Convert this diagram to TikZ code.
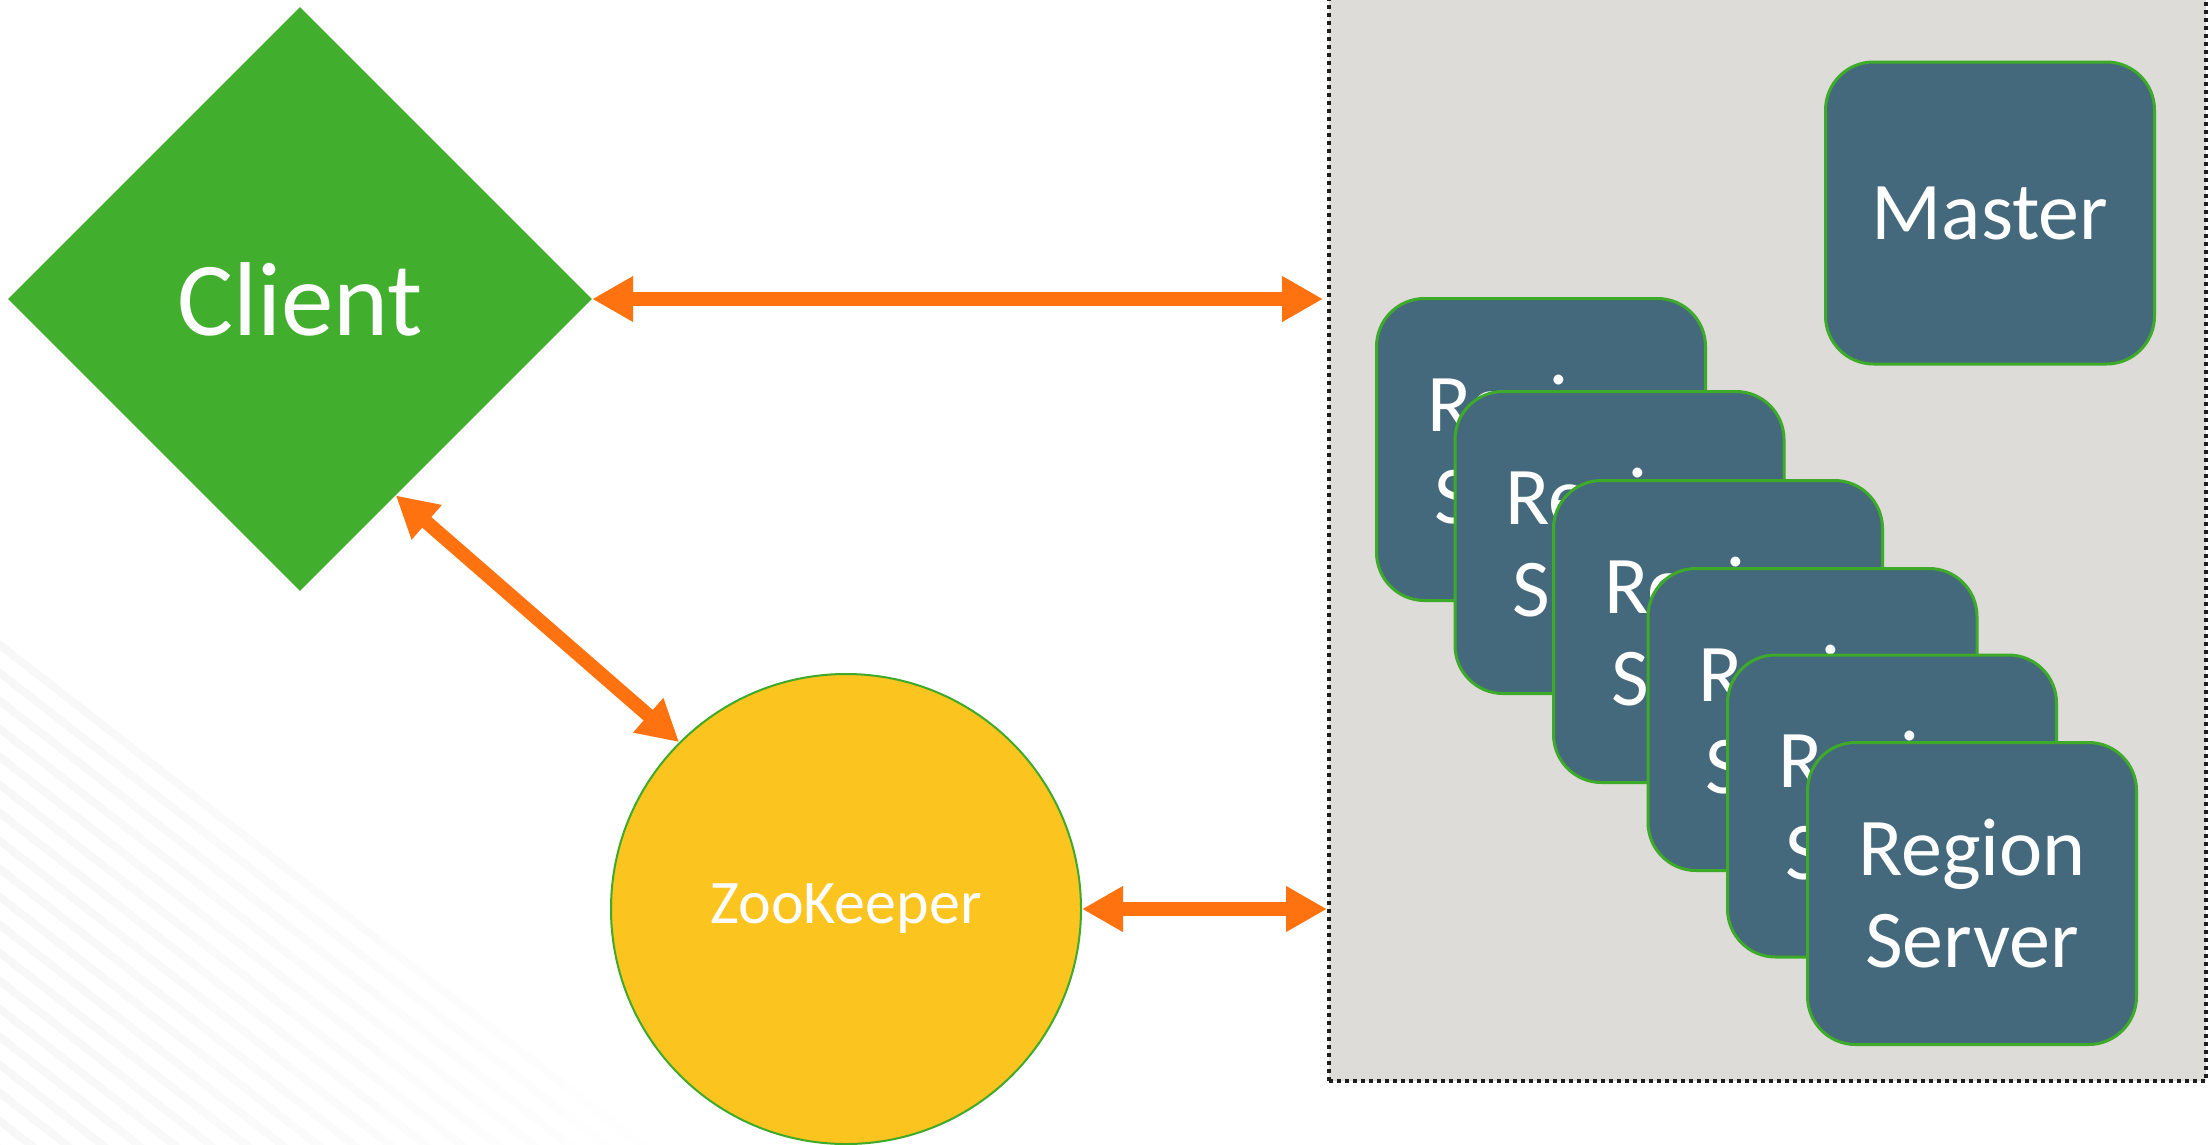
\documentclass[tikz,border=0pt]{standalone}
\usepackage{fontspec}
\setmainfont{Carlito}
\usetikzlibrary{shapes.geometric,arrows.meta}
\definecolor{cgreen}{HTML}{41AE2D}
\definecolor{bgreen}{HTML}{3DAA2A}
\definecolor{rsblue}{HTML}{45697C}
\definecolor{zkyellow}{HTML}{FCC41E}
\definecolor{arrorange}{HTML}{FF720F}
\definecolor{clgray}{HTML}{DDDCD8}
\definecolor{dotcol}{HTML}{1E1E1E}
\begin{document}
\begin{tikzpicture}[x=1pt,y=-1pt,
  rsbox/.style={draw=bgreen, line width=3pt, fill=rsblue, rounded corners=48pt,
    minimum width=329pt, minimum height=302pt, inner sep=0pt, text=white,
    align=center, font=\fontsize{82}{92}\selectfont},
  link/.style={draw=arrorange, line width=14pt,
    {Triangle[length=41pt,width=43pt]}-{Triangle[length=41pt,width=43pt]}},
]
\useasboundingbox (0,0) rectangle (2210,1144);
\fill[white] (0,0) rectangle (2210,1144);
% faint background stripes in the lower left corner
\begin{scope}
  \clip (0,0) rectangle (2210,1144);
  \foreach \i in {0,...,24} {
    \shade[left color=black!3, right color=white]
      (0,{640+\i*28}) -- (700,{640+\i*28+546}) -- (700,{650+\i*28+546}) -- (0,{650+\i*28}) -- cycle;
  }
\end{scope}
% cluster area
\node[draw=dotcol, fill=clgray, dash pattern=on 4pt off 4pt, line width=4pt,
  minimum width=877pt, minimum height=1101pt, inner sep=0pt] (cluster) at (1767.5,530.5) {};
% client
\node[diamond, aspect=1, fill=cgreen, minimum width=584pt, minimum height=584pt,
  inner sep=0pt, text=white, font=\fontsize{105}{120}\selectfont] (client) at (300,299) {Client};
% zookeeper
\node[circle, draw=bgreen, line width=2pt, fill=zkyellow, minimum size=470pt,
  inner sep=0pt, text=white, font=\fontsize{62}{70}\selectfont] (zk) at (846,909) {ZooKeeper};
% master and region servers
\node[rsbox] (master) at (1990,213) {Master};
\node[rsbox] (rs1) at (1541,449.5) {Region\\Server};
\node[rsbox] (rs2) at (1619.5,542.5) {Region\\Server};
\node[rsbox] (rs3) at (1718,631.5) {Region\\Server};
\node[rsbox] (rs4) at (1812.5,719.5) {Region\\Server};
\node[rsbox] (rs5) at (1892,806) {Region\\Server};
\node[rsbox] (rs6) at (1972,893.5) {Region\\Server};
% connectors
\draw[link, shorten >=4pt] (client.east) -- (client.east -| cluster.west);
\draw[link] (client.-64) -- (zk.135);
\draw[link] (zk.east) -- (zk.east -| cluster.west);
\end{tikzpicture}
\end{document}
